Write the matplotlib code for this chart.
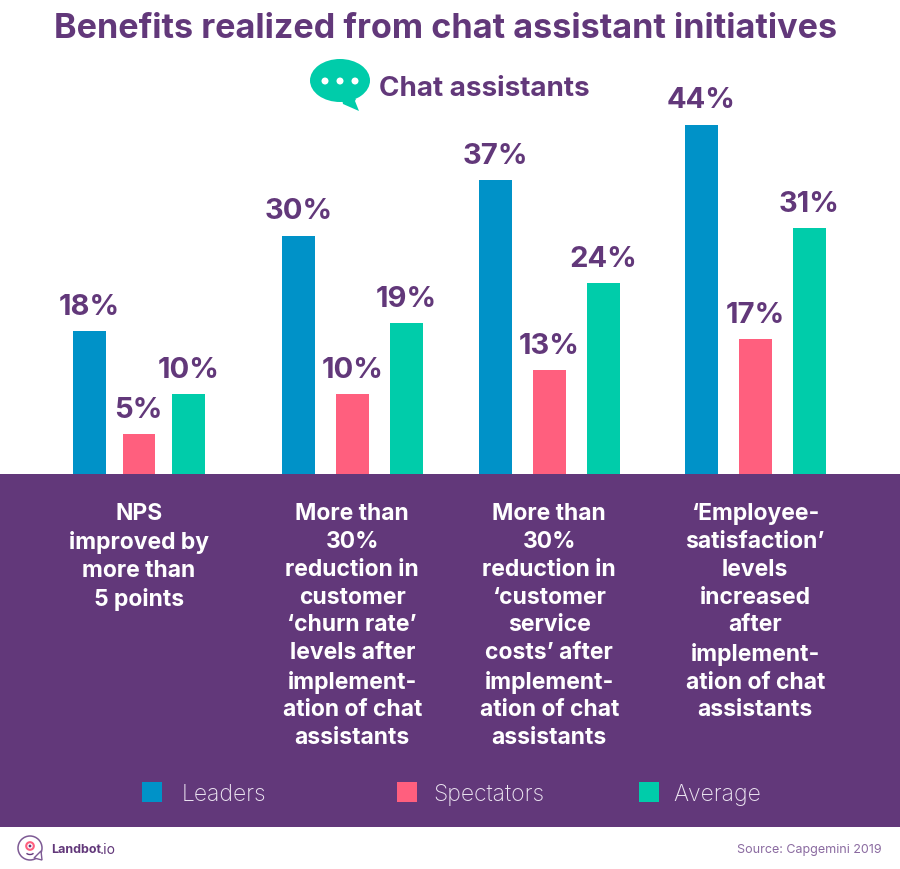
import matplotlib
matplotlib.use('Agg')
import matplotlib.pyplot as plt
from matplotlib.patches import Arc, Circle, Ellipse, Polygon, Rectangle

plt.rcParams['font.family'] = ['Inter', 'DejaVu Sans']

# Data
categories = [
    "NPS\nimproved by\nmore than\n5 points",
    "More than\n30%\nreduction in\ncustomer\n‘churn rate’\nlevels after\nimplement-\nation of chat\nassistants",
    "More than\n30%\nreduction in\n‘customer\nservice\ncosts’ after\nimplement-\nation of chat\nassistants",
    "‘Employee-\nsatisfaction’\nlevels\nincreased\nafter\nimplement-\nation of chat\nassistants",
]
leaders = [18, 30, 37, 44]
spectators = [5, 10, 13, 17]
average = [10, 19, 24, 31]
series_names = ['Leaders', 'Spectators', 'Average']

BLUE = '#0092C8'
PINK = '#FF5F7E'
GREEN = '#00CCAA'
PURPLE = '#62387A'
series_colors = [BLUE, PINK, GREEN]

# Layout, in pixels of the 900x870 picture
group_left = [73, 282, 479, 685]
group_step = [49.5, 54, 54, 54]
bar_width = 32.5
px_per_percent = 7.93
baseline = 474.5

fig = plt.figure(figsize=(9, 8.7), dpi=100, facecolor='white')

# Page axes in pixel coordinates for the bands, logo and free text
page = fig.add_axes([0, 0, 1, 1], zorder=0)
page.set_xlim(0, 900)
page.set_ylim(870, 0)
page.axis('off')

# Bars axes: sits above the baseline, y axis in percent
chart = fig.add_axes([0, 1 - baseline / 870, 1, baseline / 870], zorder=1)
chart.set_xlim(0, 900)
chart.set_ylim(0, baseline / px_per_percent)
chart.axis('off')
chart.patch.set_alpha(0)

page.add_patch(Rectangle((0, baseline), 900, 828 - baseline, color=PURPLE, lw=0))

for s, (values, color) in enumerate(zip([leaders, spectators, average], series_colors)):
    xs = [left + s * step + bar_width / 2 for left, step in zip(group_left, group_step)]
    chart.bar(xs, values, width=bar_width, color=color, linewidth=0)
    for x, v in zip(xs, values):
        chart.annotate(f'{v}%', (x, v), xytext=(0, 8), textcoords='offset points',
                       ha='center', va='bottom', fontsize=21, fontweight='bold', color=PURPLE)

# Title and sub heading
page.text(446, 28.5, 'Benefits realized from chat assistant initiatives', ha='center', va='center',
          fontsize=24.6, fontweight='bold', color=PURPLE)
page.text(379, 88.5, 'Chat assistants', ha='left', va='center', fontsize=20,
          fontweight='bold', color=PURPLE)

# Speech bubble
page.add_patch(Ellipse((340, 81.5), 60, 43, color=GREEN, lw=0))
page.add_patch(Polygon([[342, 100], [356, 100], [355, 102], [359, 112], [343, 105]], color=GREEN, lw=0))
for dx in [325, 340, 355]:
    page.add_patch(Circle((dx, 82), 3.5, color='white', lw=0))

# Category labels
centers = [left + step + bar_width / 2 for left, step in zip(group_left, group_step)]
for x, label in zip(centers, categories):
    page.text(x, 503, label, ha='center', va='top', fontsize=16.5, fontweight='bold',
              color='white', linespacing=1.345)

# Legend
legend_box = [142, 397, 639]
legend_text = [182, 433, 673]
for box, tx, name, color in zip(legend_box, legend_text, series_names, series_colors):
    page.add_patch(Rectangle((box, 783), 20, 20, color=color, lw=0))
    page.text(tx, 795.5, name, ha='left', va='center', fontsize=16.5, color='#EDE6F2', fontweight='light')

# Logo
page.add_patch(Circle((30, 849), 12, fill=False, edgecolor='#7D5A94', lw=1.1))
page.add_patch(Polygon([[34, 859], [42, 861], [41, 852]], facecolor='white', edgecolor='#7D5A94', lw=1.0))
page.add_patch(Circle((30, 847), 3.8, fill=False, edgecolor=PINK, lw=1.5))
page.add_patch(Circle((30, 847), 1.4, color=PURPLE, lw=0))
page.add_patch(Arc((30, 853), 8, 5, theta1=20, theta2=160, edgecolor=PURPLE, lw=1.0))
page.text(51, 850, 'Landbot', ha='left', va='center', fontsize=9, fontweight='bold', color=PURPLE)
page.text(100, 850, '.io', ha='left', va='center', fontsize=10, color=PURPLE)

page.text(882, 850, 'Source: Capgemini 2019', ha='right', va='center', fontsize=9, color='#8A6AA0')

fig.savefig('out.png', dpi=100)
